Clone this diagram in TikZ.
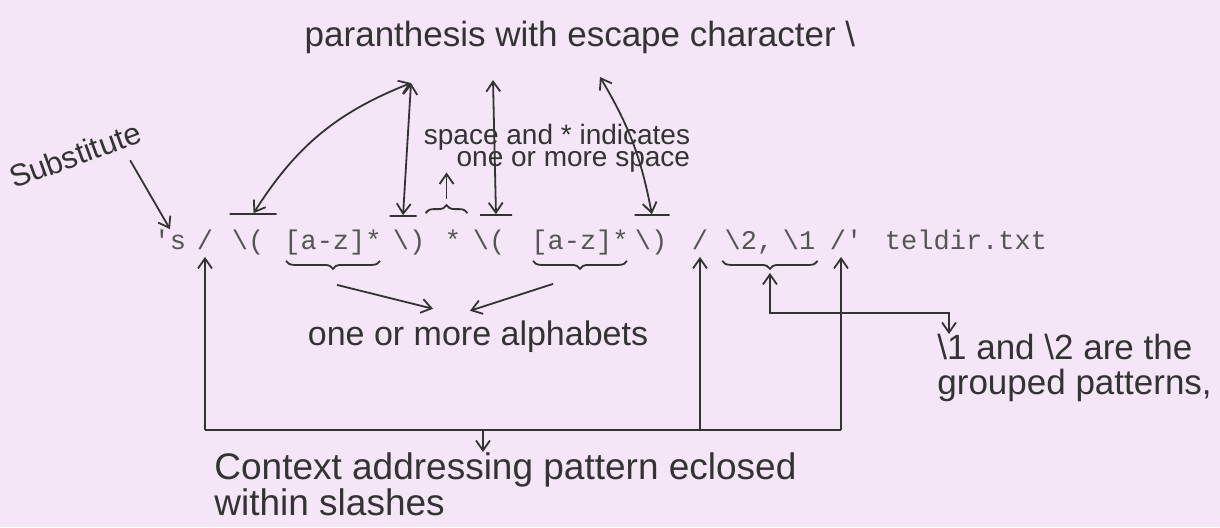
\documentclass[tikz,border=0pt]{standalone}
\usepackage{fontspec}
\setmainfont{Liberation Sans}
\setmonofont{Liberation Mono}
\usepackage{tikz}
\usetikzlibrary{arrows.meta,positioning,calc,decorations.pathreplacing}
\definecolor{Paper}{HTML}{F4E6F6}
\definecolor{Ink}{HTML}{333333}
\definecolor{Type}{HTML}{555555}

\begin{document}
\begin{tikzpicture}[
  x=0.5pt,y=-0.5pt,
  tok/.style={font=\ttfamily\fontsize{13.5}{14}\selectfont,text=Type,inner sep=1pt,text height=9pt,text depth=2.5pt},
  hand/.style={text=Ink,inner sep=0pt},
  bar/.style={draw=Ink,line width=0.9pt,inner sep=0pt,minimum height=0pt},
  pen/.style={line width=0.9pt,draw=Ink},
  arr/.style={pen,-{Straight Barb[length=5pt,width=7pt]}},
  dbl/.style={pen,{Straight Barb[length=5pt,width=7pt]}-{Straight Barb[length=5pt,width=7pt]}},
  brc/.style={pen,decorate,decoration={brace,amplitude=4pt,raise=2pt}}
]
\fill[Paper] (0,0) rectangle (1220,527);
\useasboundingbox (0,0) rectangle (1220,527);
\node[tok] (sq) at (170,243) {'s};
\node[tok] (sl1) at (205,243) {/};
\node[tok] (lp1) at (248,243) {\textbackslash(};
\node[tok] (az1) at (333,243) {[a-z]*};
\node[tok] (rp1) at (409,243) {\textbackslash)};
\node[tok] (st) at (453,243) {*};
\node[tok] (lp2) at (489,243) {\textbackslash(};
\node[tok] (az2) at (580,243) {[a-z]*};
\node[tok] (rp2) at (651,243) {\textbackslash)};
\node[tok] (sl2) at (700,243) {/};
\node[tok] (g2) at (749,243) {\textbackslash 2,};
\node[tok] (g1) at (799,243) {\textbackslash 1};
\node[tok] (sl3) at (846,243) {/'};
\node[tok] (fl) at (966,243) {teldir.txt};
\node[hand,font=\fontsize{17.5}{20}\selectfont] (title) at (580,37) {paranthesis with escape character \textbackslash};
\node[hand,align=right,font=\fontsize{14}{11}\selectfont] (note) at (557,148) {space and * indicates\\one or more space};
\node[hand,rotate=20,font=\fontsize{15.5}{18}\selectfont] (sub) at (75,155) {Substitute};
\node[hand,font=\fontsize{17}{20}\selectfont] (alph) at (478,337) {one or more alphabets};
\node[hand,align=left,anchor=north west,font=\fontsize{18.5}{17}\selectfont] (ctx) at (214,452) {Context addressing pattern eclosed\\within slashes};
\node[hand,align=left,anchor=north west,font=\fontsize{17.5}{17.5}\selectfont] (grp) at (937,334) {\textbackslash 1 and \textbackslash 2 are the\\grouped patterns,};
\node[bar,minimum width=23.5pt] (bar1) at ($(lp1.north)+(5,-15)$) {};
\node[bar,minimum width=13.5pt] (bar2) at ($(rp1.north)+(-6,-13)$) {};
\node[bar,minimum width=16pt] (bar3) at ($(lp2.north)+(7,-14)$) {};
\node[bar,minimum width=17.5pt] (bar4) at ($(rp2.north)+(1,-14)$) {};
\coordinate (t1) at (411,83);
\coordinate (t3) at (493,80);
\coordinate (t4) at (600,77);
\draw[dbl] (bar1) to[bend left=18] (t1);
\draw[dbl] (bar2) -- (t1);
\draw[dbl] (bar3) -- (t3);
\draw[dbl] (bar4) to[bend right=10] (t4);
\draw[arr] ($(sub.east)+(-10,29)$) -- (sq.north);
\draw[brc] ($(rp1.north east)+(-2,-12)$) -- ($(st.north east)+(4,-12)$);
\coordinate (br0) at ($(rp1.north east)!0.5!(st.north east)+(1,-30)$);
\draw[arr] (br0) -- (br0 |- note.south);
\draw[brc] ($(az1.south east)+(-4,0)$) -- ($(az1.south west)+(4,0)$);
\draw[brc] ($(az2.south east)+(-4,0)$) -- ($(az2.south west)+(4,0)$);
\draw[brc] (g1.south east) -- (g2.south west);
\draw[arr] ($(az1.south)+(4,28)$) -- ($(alph.north)+(-45,-12)$);
\draw[arr] ($(az2.south)+(-27,27)$) -- ($(alph.north)+(-8,-10)$);
\coordinate (base) at (483,430);
\coordinate (sl3f) at ($(sl3.south)+(-5,0)$);
\draw[pen] (sl1.south |- base) -- (sl3f |- base);
\draw[arr] (sl1.south |- base) -- (sl1.south);
\draw[arr] (sl2.south |- base) -- (sl2.south);
\draw[arr] (sl3f |- base) -- (sl3f);
\draw[arr] (base) -- (base |- ctx.north);
\coordinate (hk) at (949,313);
\draw[dbl] ($(g2.south west)!0.5!(g1.south east)+(0,16)$) |- (hk) -- (hk |- grp.north);
\end{tikzpicture}
\end{document}
